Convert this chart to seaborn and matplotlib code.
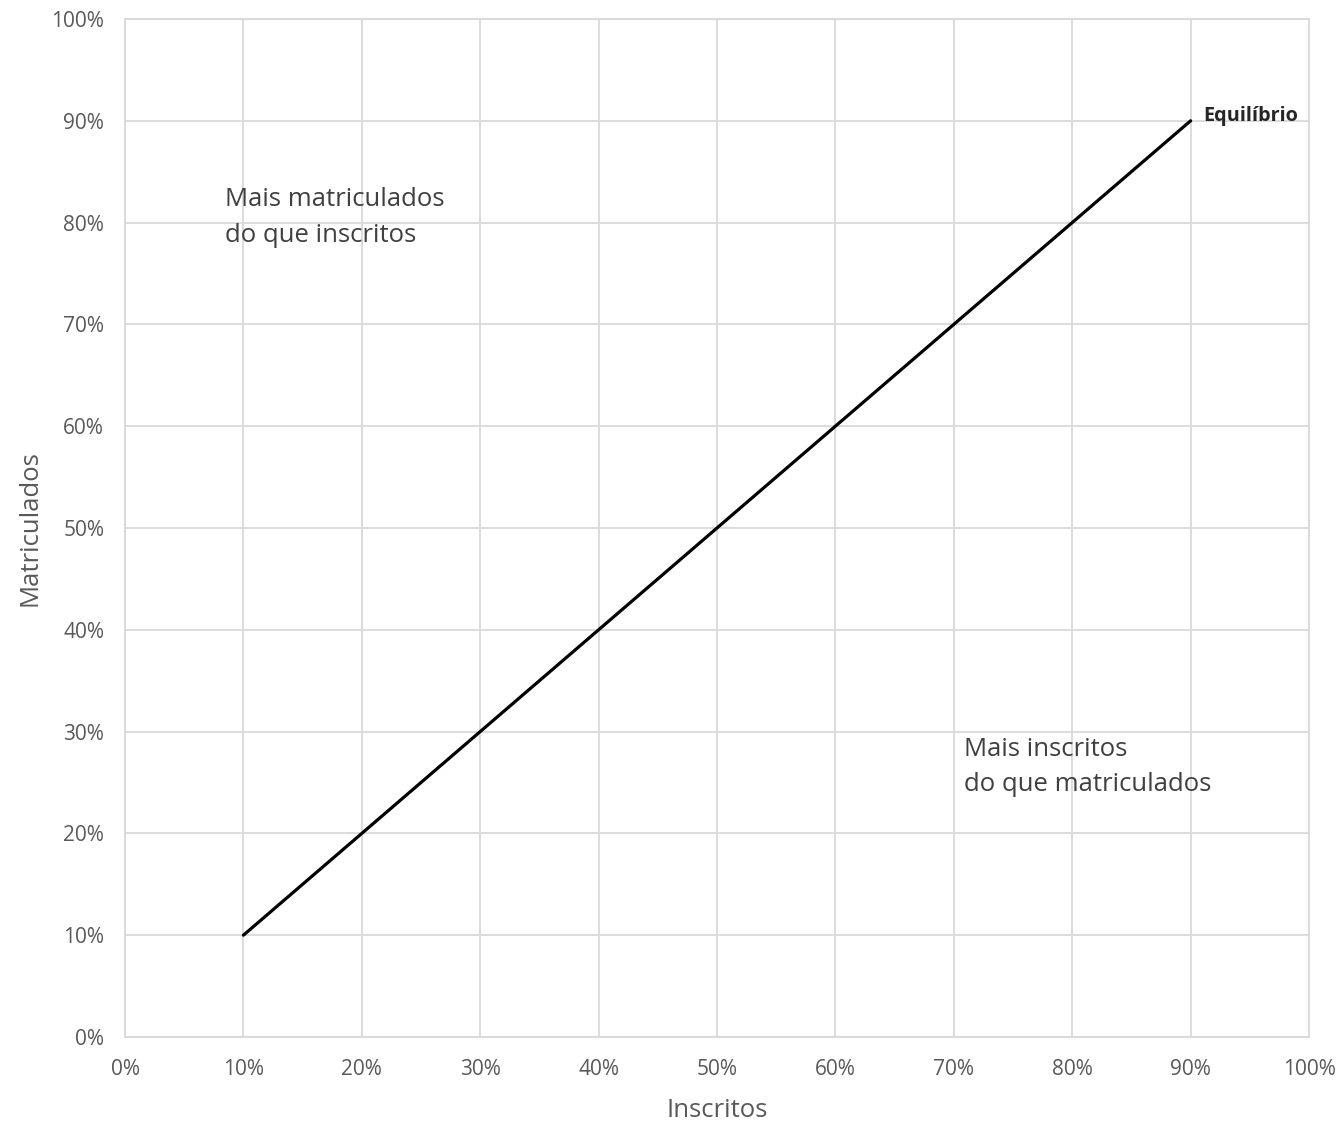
import matplotlib
matplotlib.use("Agg")
import matplotlib.pyplot as plt
import seaborn as sns
import pandas as pd
from matplotlib.ticker import PercentFormatter

# Equilibrium line data
inscritos = [0.10, 0.90]
matriculados = [0.10, 0.90]
tick_values = [i / 10 for i in range(11)]

df = pd.DataFrame({"Inscritos": inscritos, "Matriculados": matriculados})

sns.set_style("white")
plt.rcParams["font.family"] = ["Open Sans", "DejaVu Sans"]

text_color = "#595959"
grid_color = "#d9d9d9"

fig = plt.figure(figsize=(13.43, 11.23), dpi=100)
ax = fig.add_axes([0.0931, 0.0766, 0.8816, 0.9065])

sns.lineplot(data=df, x="Inscritos", y="Matriculados", color="black", linewidth=2.3, ax=ax)

ax.set_xlim(0, 1)
ax.set_ylim(0, 1)
ax.set_xticks(tick_values)
ax.set_yticks(tick_values)
ax.xaxis.set_major_formatter(PercentFormatter(1.0, decimals=0))
ax.yaxis.set_major_formatter(PercentFormatter(1.0, decimals=0))
ax.grid(True, color=grid_color, linewidth=1.3)
ax.set_axisbelow(True)
for side in ax.spines:
    ax.spines[side].set_color(grid_color)
    ax.spines[side].set_linewidth(1.3)
ax.tick_params(axis="y", length=0, labelsize=15, labelcolor=text_color, pad=15)
ax.tick_params(axis="x", length=0, labelsize=15, labelcolor=text_color, pad=16)

ax.set_xlabel("Inscritos", fontsize=18.5, color=text_color, labelpad=13)
ax.set_ylabel("Matriculados", fontsize=18.5, color=text_color, labelpad=6)

ax.text(0.0845, 0.835, "Mais matriculados\ndo que inscritos", fontsize=18.5,
        color="#404040", va="top", ha="left", linespacing=1.56)
ax.text(0.709, 0.295, "Mais inscritos\ndo que matriculados", fontsize=18.5,
        color="#404040", va="top", ha="left", linespacing=1.52)
ax.text(0.911, 0.905, "Equilíbrio", fontsize=14.3, fontweight="bold",
        color="#262626", va="center", ha="left")

fig.savefig("out.png", dpi=100)
